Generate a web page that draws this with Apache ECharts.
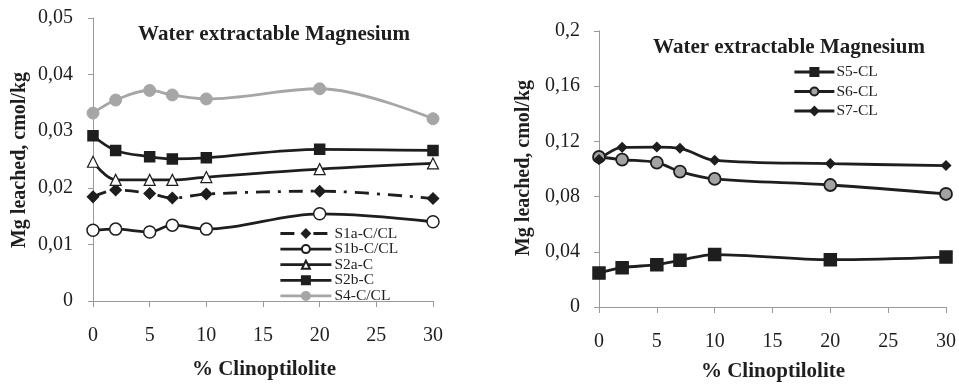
<!DOCTYPE html>
<html>
<head>
<meta charset="utf-8">
<script src="https://cdn.jsdelivr.net/npm/echarts@6/dist/echarts.min.js"></script>
<style>
  html, body { margin: 0; padding: 0; background: #fff; }
  #main { width: 959px; height: 384px; }
</style>
</head>
<body>
<div id="main"></div>
<script>
// % Clinoptilolite
const xVals = [0, 2, 5, 7, 10, 20, 30]

// left chart
const s1a = [0.0184, 0.0196, 0.0190, 0.0182, 0.0189, 0.0194, 0.0181]
const s1b = [0.0125, 0.0127, 0.0122, 0.0134, 0.0127, 0.0154, 0.0140]
const s2a = [0.0246, 0.0214, 0.0214, 0.0214, 0.0219, 0.0233, 0.0243]
const s2b = [0.0292, 0.0266, 0.0255, 0.0251, 0.0253, 0.0268, 0.0266]
const s4 = [0.0332, 0.0355, 0.0372, 0.0364, 0.0357, 0.0375, 0.0322]

// right chart
const s5 = [0.0246, 0.0285, 0.0307, 0.0338, 0.0380, 0.0343, 0.0362]
const s6 = [0.1087, 0.1068, 0.1046, 0.0981, 0.0928, 0.0884, 0.0819]
const s7 = [0.1068, 0.1157, 0.1159, 0.1150, 0.1063, 0.1039, 0.1025]

const titleText = "Water extractable Magnesium"
const yTitle = "Mg leached, cmol/kg"
const xTitle = "% Clinoptilolite"

const FONT = "Liberation Serif"
const INK = "#1e1e1e"
const AXIS = "#9a9a9a"
const GREY = "#a6a6a6"
const LW = 2.8

const pairs = arr => arr.map((v, i) => [xVals[i], v])
const comma = v => String(+v.toFixed(4)).replace(".", ",")

function xAxisFor(gridIndex) {
  return {
    gridIndex,
    type: "value",
    min: 0,
    max: 30,
    interval: 5,
    axisLine: { lineStyle: { color: AXIS, width: 1 } },
    axisTick: { show: true, length: 6, lineStyle: { color: AXIS } },
    splitLine: { show: false },
    axisLabel: { fontFamily: FONT, fontSize: 20, color: INK, margin: 25 }
  }
}
function yAxisFor(gridIndex, max, interval, margin) {
  return {
    gridIndex,
    type: "value",
    min: 0,
    max,
    interval,
    axisLine: { show: true, lineStyle: { color: AXIS, width: 1 } },
    axisTick: { show: true, length: 5, lineStyle: { color: AXIS } },
    splitLine: { show: false },
    axisLabel: { fontFamily: FONT, fontSize: 20, color: INK, margin, formatter: comma }
  }
}
function line(name, data, idx, extra) {
  return Object.assign({
    name,
    type: "line",
    xAxisIndex: idx,
    yAxisIndex: idx,
    data: pairs(data),
    smooth: 0.35,
    lineStyle: { color: INK, width: LW },
    itemStyle: { color: INK, borderColor: INK, borderWidth: 1.5, opacity: 1 },
    emphasis: { disabled: true },
    z: 3
  }, extra)
}

const legendText = pad => ({
  fontFamily: FONT, fontSize: 15.5, color: INK, padding: [0, 0, 0, pad]
})

const myChart = echarts.init(document.getElementById("main"))
myChart.setOption({
  animation: false,
  textStyle: { fontFamily: FONT },
  grid: [
    { left: 93, top: 18, width: 340, height: 283 },
    { left: 599, top: 31, width: 347, height: 276 }
  ],
  xAxis: [xAxisFor(0), xAxisFor(1)],
  yAxis: [yAxisFor(0, 0.05, 0.01, 20), yAxisFor(1, 0.2, 0.04, 19)],
  title: [
    { text: titleText, left: 274, top: 24, textAlign: "center", padding: 0,
      textStyle: { fontFamily: FONT, fontSize: 21, fontWeight: "bold", color: INK } },
    { text: titleText, left: 789, top: 37, textAlign: "center", padding: 0,
      textStyle: { fontFamily: FONT, fontSize: 21, fontWeight: "bold", color: INK } }
  ],
  legend: [
    {
      left: 279, top: 225.5, orient: "vertical", padding: 0,
      itemWidth: 51, itemHeight: 10, itemGap: -0.4,
      lineStyle: { width: LW },
      textStyle: legendText(-2),
      data: ["S1a-C/CL", "S1b-C/CL", "S2a-C", "S2b-C", "S4-C/CL"]
    },
    {
      left: 793, top: 64, orient: "vertical", padding: 0,
      itemWidth: 40, itemHeight: 10, itemGap: 3.5,
      lineStyle: { width: LW },
      textStyle: legendText(-3),
      data: ["S5-CL", "S6-CL", "S7-CL"]
    }
  ],
  graphic: [
    { type: "text", x: 20, y: 160, rotation: Math.PI / 2,
      style: { text: yTitle, font: "bold 20px " + FONT, fill: INK, textAlign: "center", textVerticalAlign: "middle" } },
    { type: "text", x: 524, y: 168, rotation: Math.PI / 2,
      style: { text: yTitle, font: "bold 20px " + FONT, fill: INK, textAlign: "center", textVerticalAlign: "middle" } },
    { type: "text", x: 264, y: 370,
      style: { text: xTitle, font: "bold 21px " + FONT, fill: INK, textAlign: "center", textVerticalAlign: "middle" } },
    { type: "text", x: 773, y: 372,
      style: { text: xTitle, font: "bold 21px " + FONT, fill: INK, textAlign: "center", textVerticalAlign: "middle" } }
  ],
  series: [
    line("S1a-C/CL", s1a, 0, {
      symbol: "diamond", symbolSize: 11,
      lineStyle: { color: INK, width: LW, type: [14, 8, 3, 8] }
    }),
    line("S1b-C/CL", s1b, 0, {
      symbol: "circle", symbolSize: 12,
      itemStyle: { color: "#fff", borderColor: INK, borderWidth: 1.5 }
    }),
    line("S2a-C", s2a, 0, {
      symbol: "triangle", symbolSize: 11,
      itemStyle: { color: "#fff", borderColor: INK, borderWidth: 1.2 }
    }),
    line("S2b-C", s2b, 0, { symbol: "rect", symbolSize: 10 }),
    line("S4-C/CL", s4, 0, {
      symbol: "circle", symbolSize: 12,
      lineStyle: { color: GREY, width: LW },
      itemStyle: { color: GREY, borderColor: GREY, borderWidth: 1 }
    }),
    line("S5-CL", s5, 1, { symbol: "rect", symbolSize: 12 }),
    line("S6-CL", s6, 1, {
      symbol: "circle", symbolSize: 12,
      itemStyle: { color: "#a3a3a3", borderColor: INK, borderWidth: 1.8 }
    }),
    line("S7-CL", s7, 1, { symbol: "diamond", symbolSize: 9 })
  ]
})
</script>
</body>
</html>
